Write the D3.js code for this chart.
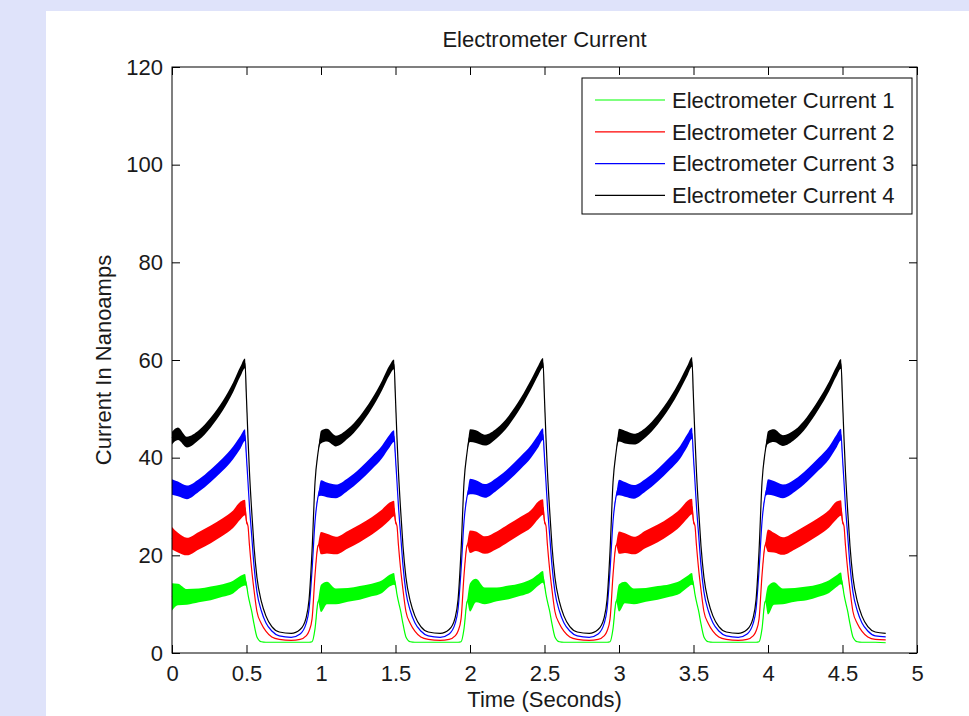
<!DOCTYPE html>
<html>
<head>
<meta charset="utf-8">
<script src="https://cdn.jsdelivr.net/npm/d3@7"></script>
<style>
body { margin: 0; background: #dfe3fa; }
svg { display: block; font-family: "Liberation Sans", Arial, sans-serif; }
</style>
</head>
<body>
<script>
var width = 969, height = 716;

// chart values
var titleText = "Electrometer Current";
var xLabel = "Time (Seconds)";
var yLabel = "Current In Nanoamps";
var xTicks = [0, 0.5, 1, 1.5, 2, 2.5, 3, 3.5, 4, 4.5, 5];
var yTicks = [0, 20, 40, 60, 80, 100, 120];
var seriesNames = ["Electrometer Current 1", "Electrometer Current 2", "Electrometer Current 3", "Electrometer Current 4"];
var seriesColors = ["#00ff00", "#ff0000", "#0000ff", "#000000"];

var time = [
  0, 0.04, 0.1, 0.18, 0.26, 0.34, 0.41, 0.46, 0.49, 0.5, 0.51, 0.52, 0.535, 0.55, 0.57, 0.6, 0.63, 0.67, 0.72, 0.8, 0.86, 0.9, 0.92, 0.94, 0.96, 0.98,
  1, 1.04, 1.1, 1.18, 1.26, 1.34, 1.41, 1.46, 1.49, 1.5, 1.51, 1.52, 1.535, 1.55, 1.57, 1.6, 1.63, 1.67, 1.72, 1.8, 1.86, 1.9, 1.92, 1.94, 1.96, 1.98,
  2, 2.04, 2.1, 2.18, 2.26, 2.34, 2.41, 2.46, 2.49, 2.5, 2.51, 2.52, 2.535, 2.55, 2.57, 2.6, 2.63, 2.67, 2.72, 2.8, 2.86, 2.9, 2.92, 2.94, 2.96, 2.98,
  3, 3.04, 3.1, 3.18, 3.26, 3.34, 3.41, 3.46, 3.49, 3.5, 3.51, 3.52, 3.535, 3.55, 3.57, 3.6, 3.63, 3.67, 3.72, 3.8, 3.86, 3.9, 3.92, 3.94, 3.96, 3.98,
  4, 4.04, 4.1, 4.18, 4.26, 4.34, 4.41, 4.46, 4.49, 4.5, 4.51, 4.52, 4.535, 4.55, 4.57, 4.6, 4.63, 4.67, 4.72, 4.79
];

var current1 = [
  11.5, 12, 11.5, 11.8, 12.2, 12.8, 13.5, 14.6, 15, 14, 12, 10.5, 8.5, 6, 3.3, 2.3, 2.2, 2.2, 2.2, 2.2, 2.2, 2.2, 2.2, 2.3, 5, 10.5,
  11.2, 12.3, 11.6, 11.9, 12.3, 12.9, 13.6, 14.8, 15.2, 14, 12, 10.5, 8.5, 6, 3.3, 2.3, 2.2, 2.2, 2.2, 2.2, 2.2, 2.2, 2.2, 2.3, 5, 10.5,
  11.4, 12.8, 11.7, 12, 12.4, 13, 13.8, 15, 15.6, 14, 12, 10.5, 8.5, 6, 3.3, 2.3, 2.2, 2.2, 2.2, 2.2, 2.2, 2.2, 2.2, 2.3, 5, 10.5,
  11.3, 12.4, 11.6, 11.9, 12.3, 12.8, 13.5, 14.6, 15.2, 14, 12, 10.5, 8.5, 6, 3.3, 2.3, 2.2, 2.2, 2.2, 2.2, 2.2, 2.2, 2.2, 2.3, 5, 10.5,
  10.8, 12.2, 11.6, 11.9, 12.2, 12.8, 13.6, 14.7, 15.3, 14, 12, 10.5, 8.5, 6, 3.3, 2.3, 2.2, 2.2, 2.2, 2.1
];
var current2 = [
  23.5, 22.6, 21.8, 23, 24.3, 25.8, 27.4, 29.2, 29.8, 27, 26, 22, 17, 13, 8.5, 6, 4.5, 3.3, 2.8, 2.6, 2.8, 3.5, 4.5, 7, 16, 22,
  22.5, 22.4, 22, 23.2, 24.5, 26, 27.6, 29, 29.6, 27, 26, 22, 17, 13, 8.5, 6, 4.5, 3.3, 2.8, 2.6, 2.8, 3.5, 4.5, 7, 16, 22,
  22.8, 22.9, 22.1, 23.1, 24.6, 26.1, 27.5, 29.3, 29.9, 27, 26, 22, 17, 13, 8.5, 6, 4.5, 3.3, 2.8, 2.6, 2.8, 3.5, 4.5, 7, 16, 22,
  22.6, 22.5, 22, 23.3, 24.5, 26, 27.7, 29.4, 30, 27, 26, 22, 17, 13, 8.5, 6, 4.5, 3.3, 2.8, 2.6, 2.8, 3.5, 4.5, 7, 16, 22,
  23, 22.6, 21.9, 23, 24.4, 25.9, 27.5, 29.2, 29.7, 27, 26, 22, 17, 13, 8.5, 6, 4.5, 3.3, 2.8, 2.7
];
var current3 = [
  34, 33.6, 32.9, 34.3, 36.3, 38.6, 41, 43.2, 44.6, 40, 35, 30, 24, 18, 12.5, 8.6, 6.2, 4.5, 3.5, 3.2, 3.9, 6, 9, 17, 27, 32,
  33.8, 33.4, 33.1, 34.5, 36.5, 38.9, 41.2, 43.4, 44.4, 40, 35, 30, 24, 18, 12.5, 8.6, 6.2, 4.5, 3.5, 3.2, 3.9, 6, 9, 17, 27, 32,
  34.1, 33.9, 33.2, 34.6, 36.6, 39, 41.3, 43.5, 44.8, 40, 35, 30, 24, 18, 12.5, 8.6, 6.2, 4.5, 3.5, 3.2, 3.9, 6, 9, 17, 27, 32,
  33.9, 33.5, 33, 34.4, 36.4, 38.8, 41.1, 43.6, 45, 40, 35, 30, 24, 18, 12.5, 8.6, 6.2, 4.5, 3.5, 3.2, 3.9, 6, 9, 17, 27, 32,
  34, 33.7, 33.1, 34.3, 36.3, 38.7, 41, 43.4, 44.7, 40, 35, 30, 24, 18, 12.5, 8.6, 6.2, 4.5, 3.5, 3.3
];
var current4 = [
  44, 44.9, 43.2, 44.6, 47.2, 50.6, 54.4, 57.7, 59.3, 52, 44, 37, 29, 22, 15.5, 10.5, 7.6, 5.4, 4.3, 4, 4.8, 7.2, 11, 21, 35, 41,
  44.2, 44.6, 43.4, 44.9, 47.5, 51, 54.8, 57.9, 59.1, 52, 44, 37, 29, 22, 15.5, 10.5, 7.6, 5.4, 4.3, 4, 4.8, 7.2, 11, 21, 35, 41,
  44.5, 44.3, 43.6, 45, 47.6, 51.2, 55, 58, 59.4, 52, 44, 37, 29, 22, 15.5, 10.5, 7.6, 5.4, 4.3, 4, 4.8, 7.2, 11, 21, 35, 41,
  44.6, 44.2, 43.8, 45.2, 47.8, 51.2, 54.9, 57.9, 59.6, 52, 44, 37, 29, 22, 15.5, 10.5, 7.6, 5.4, 4.3, 4, 4.8, 7.2, 11, 21, 35, 41,
  44.1, 44.5, 43.5, 44.7, 47.3, 50.9, 54.6, 57.7, 59.2, 52, 44, 37, 29, 22, 15.5, 10.5, 7.6, 5.4, 4.3, 4
];

// half-width of the noise band around each value (nanoamps)
var noise1 = [
  2.8, 2.2, 1.6, 1.4, 1.4, 1.3, 1.3, 1.2, 1.2, 0.5, 0, 0, 0, 0, 0, 0, 0, 0, 0, 0, 0, 0, 0, 0, 0, 0,
  2.8, 2.3, 1.6, 1.4, 1.4, 1.3, 1.3, 1.2, 1.2, 0.5, 0, 0, 0, 0, 0, 0, 0, 0, 0, 0, 0, 0, 0, 0, 0, 0,
  2.9, 2.4, 1.7, 1.4, 1.4, 1.3, 1.3, 1.2, 1.2, 0.5, 0, 0, 0, 0, 0, 0, 0, 0, 0, 0, 0, 0, 0, 0, 0, 0,
  2.8, 2.2, 1.6, 1.4, 1.4, 1.3, 1.3, 1.2, 1.2, 0.5, 0, 0, 0, 0, 0, 0, 0, 0, 0, 0, 0, 0, 0, 0, 0, 0,
  2.9, 2.3, 1.6, 1.4, 1.4, 1.3, 1.3, 1.2, 1.2, 0.5, 0, 0, 0, 0, 0, 0, 0, 0, 0, 0
];
var noise2 = [
  2.3, 2, 1.8, 1.8, 1.8, 1.8, 1.8, 1.8, 1.6, 0.6, 0, 0, 0, 0, 0, 0, 0, 0, 0, 0, 0, 0, 0, 0, 0, 0,
  2.3, 2, 1.8, 1.8, 1.8, 1.8, 1.8, 1.8, 1.6, 0.6, 0, 0, 0, 0, 0, 0, 0, 0, 0, 0, 0, 0, 0, 0, 0, 0,
  2.3, 2, 1.8, 1.8, 1.8, 1.8, 1.8, 1.8, 1.6, 0.6, 0, 0, 0, 0, 0, 0, 0, 0, 0, 0, 0, 0, 0, 0, 0, 0,
  2.3, 2, 1.8, 1.8, 1.8, 1.8, 1.8, 1.8, 1.6, 0.6, 0, 0, 0, 0, 0, 0, 0, 0, 0, 0, 0, 0, 0, 0, 0, 0,
  2.3, 2, 1.8, 1.8, 1.8, 1.8, 1.8, 1.8, 1.6, 0.6, 0, 0, 0, 0, 0, 0, 0, 0, 0, 0
];
var noise3 = [
  1.6, 1.5, 1.4, 1.3, 1.3, 1.3, 1.3, 1.3, 1.2, 0.5, 0, 0, 0, 0, 0, 0, 0, 0, 0, 0, 0, 0, 0, 0, 0, 0,
  1.6, 1.5, 1.4, 1.3, 1.3, 1.3, 1.3, 1.3, 1.2, 0.5, 0, 0, 0, 0, 0, 0, 0, 0, 0, 0, 0, 0, 0, 0, 0, 0,
  1.6, 1.5, 1.4, 1.3, 1.3, 1.3, 1.3, 1.3, 1.2, 0.5, 0, 0, 0, 0, 0, 0, 0, 0, 0, 0, 0, 0, 0, 0, 0, 0,
  1.6, 1.5, 1.4, 1.3, 1.3, 1.3, 1.3, 1.3, 1.2, 0.5, 0, 0, 0, 0, 0, 0, 0, 0, 0, 0, 0, 0, 0, 0, 0, 0,
  1.6, 1.5, 1.4, 1.3, 1.3, 1.3, 1.3, 1.3, 1.2, 0.5, 0, 0, 0, 0, 0, 0, 0, 0, 0, 0
];
var noise4 = [
  1.3, 1.3, 1.1, 1, 1, 1, 1, 1, 1, 0.4, 0, 0, 0, 0, 0, 0, 0, 0, 0, 0, 0, 0, 0, 0, 0, 0,
  1.3, 1.3, 1.1, 1, 1, 1, 1, 1, 1, 0.4, 0, 0, 0, 0, 0, 0, 0, 0, 0, 0, 0, 0, 0, 0, 0, 0,
  1.3, 1.3, 1.1, 1, 1, 1, 1, 1, 1, 0.4, 0, 0, 0, 0, 0, 0, 0, 0, 0, 0, 0, 0, 0, 0, 0, 0,
  1.3, 1.3, 1.1, 1, 1, 1, 1, 1, 1, 0.4, 0, 0, 0, 0, 0, 0, 0, 0, 0, 0, 0, 0, 0, 0, 0, 0,
  1.3, 1.3, 1.1, 1, 1, 1, 1, 1, 1, 0.4, 0, 0, 0, 0, 0, 0, 0, 0, 0, 0
];

function main() {
	var values = [current1, current2, current3, current4];
	var noises = [noise1, noise2, noise3, noise4];

	var svg = d3.select("body").append("svg")
		.attr("width", width)
		.attr("height", height);

	// page background and white figure area
	svg.append("rect").attr("width", width).attr("height", height).attr("fill", "#dfe3fa");
	svg.append("rect").attr("x", 46).attr("y", 11)
		.attr("width", width - 46).attr("height", height - 11).attr("fill", "#ffffff");

	var left = 172, top = 67, right = 917, bottom = 653;
	var xscale = d3.scaleLinear().domain([0, 5]).range([left, right]);
	var yscale = d3.scaleLinear().domain([0, 120]).range([bottom, top]);

	// noise bands, then the lines
	var series = values.map(function (v, i) {
		return time.map(function (t, j) { return { t: t, v: v[j], n: noises[i][j] }; });
	});

	var band = d3.area()
		.x(function (d) { return xscale(d.t); })
		.y0(function (d) { return yscale(d.v - d.n); })
		.y1(function (d) { return yscale(d.v + d.n); })
		.curve(d3.curveMonotoneX);
	var line = d3.line()
		.x(function (d) { return xscale(d.t); })
		.y(function (d) { return yscale(d.v); })
		.curve(d3.curveMonotoneX);

	var plot = svg.append("g");
	series.forEach(function (s, i) {
		plot.append("path").attr("d", band(s))
			.attr("fill", seriesColors[i]).attr("stroke", "none");
		plot.append("path").attr("d", line(s))
			.attr("fill", "none").attr("stroke", seriesColors[i]).attr("stroke-width", 1.2);
	});

	// axes, ticks inward on all four sides
	var fmt = function (d) { return String(d); };
	svg.append("g").attr("transform", "translate(0," + bottom + ")")
		.call(d3.axisBottom(xscale).tickValues(xTicks).tickFormat(fmt).tickSizeInner(-8).tickSizeOuter(0).tickPadding(12));
	svg.append("g").attr("transform", "translate(0," + top + ")")
		.call(d3.axisTop(xscale).tickValues(xTicks).tickFormat("").tickSizeInner(-8).tickSizeOuter(0));
	svg.append("g").attr("transform", "translate(" + left + ",0)")
		.call(d3.axisLeft(yscale).tickValues(yTicks).tickFormat(fmt).tickSizeInner(-8).tickSizeOuter(0).tickPadding(9));
	svg.append("g").attr("transform", "translate(" + right + ",0)")
		.call(d3.axisRight(yscale).tickValues(yTicks).tickFormat("").tickSizeInner(-8).tickSizeOuter(0));

	svg.selectAll(".tick line").attr("stroke", "#000");
	svg.selectAll(".domain").remove();
	svg.selectAll(".tick text").attr("font-size", 22).attr("fill", "#1a1a1a")
		.attr("font-family", "'Liberation Sans', Arial, sans-serif");

	svg.append("rect").attr("x", left).attr("y", top)
		.attr("width", right - left).attr("height", bottom - top)
		.attr("fill", "none").attr("stroke", "#000").attr("stroke-width", 1);

	// title and labels
	svg.append("text").attr("x", (left + right) / 2).attr("y", 46.5)
		.attr("text-anchor", "middle").attr("font-size", 22).attr("fill", "#1a1a1a")
		.text(titleText);
	svg.append("text").attr("x", (left + right) / 2).attr("y", 707)
		.attr("text-anchor", "middle").attr("font-size", 22).attr("fill", "#1a1a1a")
		.text(xLabel);
	svg.append("text").attr("transform", "translate(111," + (top + bottom) / 2 + ") rotate(-90)")
		.attr("text-anchor", "middle").attr("font-size", 22).attr("fill", "#1a1a1a")
		.text(yLabel);

	// legend
	var legend = svg.append("g");
	legend.append("rect").attr("x", 582).attr("y", 78).attr("width", 330).attr("height", 136)
		.attr("fill", "#fff").attr("stroke", "#000").attr("stroke-width", 1);
	var rows = legend.selectAll("g.row").data(seriesNames).enter().append("g")
		.attr("transform", function (d, i) { return "translate(0," + (100 + i * 31.8) + ")"; });
	rows.append("line").attr("x1", 595).attr("x2", 665)
		.attr("stroke", function (d, i) { return seriesColors[i]; }).attr("stroke-width", 1.2);
	rows.append("text").attr("x", 672).attr("dy", "0.35em")
		.attr("font-size", 22).attr("fill", "#1a1a1a")
		.text(function (d) { return d; });
}
main();
</script>
</body>
</html>
